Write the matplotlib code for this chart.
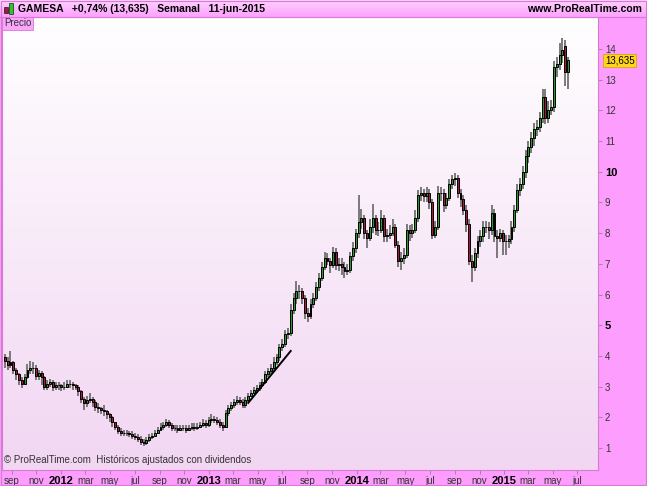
import numpy as np
import pandas as pd
import matplotlib
matplotlib.use("Agg")
import matplotlib.pyplot as plt
import matplotlib.dates as mdates
from matplotlib.colors import LinearSegmentedColormap
from matplotlib.patches import Rectangle

plt.rcParams['font.family'] = ['Liberation Sans', 'DejaVu Sans']

# weekly candles, GAMESA, aug 2011 -> jun 2015
weeks = pd.date_range('2011-08-15', periods=200, freq='W-MON')

opens = [
    3.95, 3.85, 3.70, 3.80, 3.55, 3.40, 3.20, 3.10, 3.30, 3.55,
    3.60, 3.60, 3.35, 3.45, 3.30, 3.00, 3.10, 3.15, 3.00, 3.05,
    3.05, 3.00, 3.00, 3.10, 3.10, 3.05, 3.00, 2.85, 2.60, 2.45,
    2.55, 2.60, 2.50, 2.35, 2.30, 2.25, 2.20, 2.10, 2.00, 1.85,
    1.70, 1.55, 1.50, 1.50, 1.50, 1.45, 1.40, 1.35, 1.30, 1.20,
    1.15, 1.25, 1.35, 1.40, 1.50, 1.60, 1.70, 1.75, 1.85, 1.75,
    1.65, 1.65, 1.60, 1.65, 1.65, 1.60, 1.65, 1.70, 1.65, 1.70,
    1.75, 1.80, 1.75, 1.90, 1.95, 1.90, 1.85, 1.75, 1.70, 2.15,
    2.30, 2.40, 2.50, 2.55, 2.50, 2.40, 2.55, 2.70, 2.80, 2.90,
    2.95, 3.05, 3.15, 3.40, 3.50, 3.60, 3.80, 3.95, 4.30, 4.40,
    4.70, 4.75, 5.50, 5.90, 6.10, 6.10, 5.90, 5.40, 5.30, 5.70,
    5.90, 6.25, 6.55, 6.90, 7.20, 7.10, 6.95, 7.40, 6.95, 7.00,
    6.90, 6.75, 6.80, 7.25, 7.50, 8.00, 8.35, 8.50, 8.00, 7.85,
    8.20, 8.50, 8.10, 8.10, 8.50, 7.90, 7.95, 8.00, 8.20, 7.60,
    7.10, 7.20, 7.30, 8.10, 8.00, 8.10, 8.50, 9.25, 9.30, 9.20,
    9.30, 9.00, 7.95, 8.20, 9.30, 9.30, 8.90, 9.15, 9.60, 9.75,
    9.80, 9.30, 9.10, 8.75, 8.30, 7.10, 6.90, 7.35, 7.75, 7.90,
    8.20, 8.20, 8.10, 8.65, 7.90, 7.85, 8.00, 7.75, 7.75, 7.80,
    8.20, 8.75, 9.40, 9.60, 10.00, 10.50, 10.80, 11.10, 11.40, 11.45,
    11.75, 12.45, 11.75, 12.00, 12.10, 13.40, 13.50, 13.80, 14.10, 13.25,
]
highs = [
    4.05, 3.95, 4.15, 3.85, 3.60, 3.45, 3.30, 3.40, 3.75, 3.85,
    3.80, 3.70, 3.55, 3.50, 3.35, 3.20, 3.25, 3.20, 3.15, 3.15,
    3.10, 3.15, 3.20, 3.20, 3.15, 3.10, 3.05, 2.90, 2.65, 2.70,
    2.80, 2.65, 2.55, 2.45, 2.35, 2.40, 2.25, 2.15, 2.05, 1.85,
    1.75, 1.65, 1.60, 1.60, 1.55, 1.55, 1.50, 1.45, 1.40, 1.30,
    1.35, 1.45, 1.50, 1.60, 1.70, 1.80, 1.85, 1.95, 1.90, 1.80,
    1.75, 1.75, 1.75, 1.75, 1.75, 1.75, 1.80, 1.80, 1.80, 1.85,
    1.95, 1.90, 2.00, 2.10, 2.05, 2.00, 1.95, 1.85, 2.25, 2.40,
    2.50, 2.60, 2.70, 2.65, 2.60, 2.65, 2.80, 2.90, 3.00, 3.05,
    3.15, 3.25, 3.50, 3.60, 3.75, 3.95, 4.05, 4.40, 4.55, 4.85,
    4.90, 5.70, 6.05, 6.45, 6.30, 6.20, 6.00, 5.55, 5.85, 6.05,
    6.40, 6.70, 7.05, 7.40, 7.35, 7.20, 7.55, 7.50, 7.20, 7.20,
    7.05, 7.00, 7.40, 7.70, 8.15, 9.25, 8.80, 8.60, 8.10, 8.45,
    8.95, 8.60, 8.35, 8.75, 8.60, 8.15, 8.25, 8.45, 8.30, 7.75,
    7.40, 7.50, 8.30, 8.25, 8.30, 8.75, 9.40, 9.50, 9.45, 9.50,
    9.45, 9.10, 8.40, 9.55, 9.50, 9.45, 9.30, 9.75, 9.90, 9.95,
    9.90, 9.45, 9.25, 8.90, 8.45, 7.30, 7.50, 7.90, 8.10, 8.40,
    8.40, 8.35, 8.90, 8.80, 8.10, 8.15, 8.10, 7.95, 7.95, 8.40,
    8.90, 9.60, 9.80, 10.20, 10.70, 11.00, 11.30, 11.60, 11.70, 11.95,
    12.70, 12.70, 12.30, 12.35, 13.60, 13.75, 14.20, 14.35, 14.30, 13.75,
]
lows = [
    3.60, 3.55, 3.60, 3.40, 3.20, 3.05, 2.95, 3.05, 3.25, 3.40,
    3.40, 3.20, 3.20, 3.05, 2.90, 2.90, 3.00, 2.85, 2.90, 2.90,
    2.85, 2.90, 2.95, 2.95, 2.90, 2.90, 2.70, 2.45, 2.25, 2.35,
    2.45, 2.35, 2.20, 2.15, 2.10, 2.05, 1.95, 1.85, 1.70, 1.60,
    1.45, 1.40, 1.40, 1.40, 1.35, 1.30, 1.25, 1.20, 1.10, 1.05,
    1.10, 1.20, 1.30, 1.35, 1.45, 1.55, 1.60, 1.70, 1.65, 1.55,
    1.55, 1.50, 1.55, 1.55, 1.50, 1.55, 1.60, 1.55, 1.60, 1.65,
    1.70, 1.65, 1.70, 1.80, 1.80, 1.75, 1.65, 1.55, 1.65, 2.05,
    2.20, 2.30, 2.40, 2.40, 2.30, 2.30, 2.50, 2.65, 2.75, 2.80,
    2.85, 3.00, 3.10, 3.30, 3.40, 3.50, 3.70, 3.85, 4.15, 4.30,
    4.55, 4.65, 5.35, 5.70, 5.85, 5.70, 5.20, 5.10, 5.20, 5.55,
    5.80, 6.10, 6.45, 6.80, 6.95, 6.70, 6.85, 6.80, 6.75, 6.65,
    6.55, 6.65, 6.70, 7.10, 7.35, 7.85, 8.15, 7.80, 7.50, 7.75,
    8.00, 7.95, 7.90, 8.00, 7.70, 7.70, 7.80, 7.90, 7.50, 6.90,
    6.80, 7.00, 7.20, 7.75, 7.85, 8.00, 8.35, 9.05, 9.00, 9.00,
    8.80, 7.80, 7.85, 8.10, 9.05, 8.70, 8.80, 9.05, 9.45, 9.55,
    9.15, 8.85, 8.60, 8.05, 6.95, 6.40, 6.75, 7.20, 7.55, 7.70,
    8.00, 7.80, 7.95, 7.70, 7.20, 7.70, 7.30, 7.30, 7.50, 7.65,
    8.05, 8.65, 9.20, 9.45, 9.80, 10.30, 10.60, 10.85, 11.15, 11.30,
    11.60, 11.55, 11.60, 11.85, 11.95, 13.10, 13.30, 13.55, 12.80, 12.70,
]
closes = [
    3.85, 3.70, 3.80, 3.55, 3.40, 3.20, 3.10, 3.30, 3.55, 3.60,
    3.60, 3.35, 3.45, 3.30, 3.00, 3.10, 3.15, 3.00, 3.05, 3.05,
    3.00, 3.00, 3.10, 3.10, 3.05, 3.00, 2.85, 2.60, 2.45, 2.55,
    2.60, 2.50, 2.35, 2.30, 2.25, 2.20, 2.10, 2.00, 1.85, 1.70,
    1.55, 1.50, 1.50, 1.50, 1.45, 1.40, 1.35, 1.30, 1.20, 1.15,
    1.25, 1.35, 1.40, 1.50, 1.60, 1.70, 1.75, 1.85, 1.75, 1.65,
    1.65, 1.60, 1.65, 1.65, 1.60, 1.65, 1.70, 1.65, 1.70, 1.75,
    1.80, 1.75, 1.90, 1.95, 1.90, 1.85, 1.75, 1.70, 2.15, 2.30,
    2.40, 2.50, 2.55, 2.50, 2.40, 2.55, 2.70, 2.80, 2.90, 2.95,
    3.05, 3.15, 3.40, 3.50, 3.60, 3.80, 3.95, 4.30, 4.40, 4.70,
    4.75, 5.50, 5.90, 6.10, 6.10, 5.90, 5.40, 5.30, 5.70, 5.90,
    6.25, 6.55, 6.90, 7.20, 7.10, 6.95, 7.40, 6.95, 7.00, 6.90,
    6.75, 6.80, 7.25, 7.50, 8.00, 8.35, 8.50, 8.00, 7.85, 8.20,
    8.50, 8.10, 8.10, 8.50, 7.90, 7.95, 8.00, 8.20, 7.60, 7.10,
    7.20, 7.30, 8.10, 8.00, 8.10, 8.50, 9.25, 9.30, 9.20, 9.30,
    9.00, 7.95, 8.20, 9.30, 9.30, 8.90, 9.15, 9.60, 9.75, 9.80,
    9.30, 9.10, 8.75, 8.30, 7.10, 6.90, 7.35, 7.75, 7.90, 8.20,
    8.20, 8.10, 8.65, 7.90, 7.85, 8.00, 7.75, 7.75, 7.80, 8.20,
    8.75, 9.40, 9.60, 10.00, 10.50, 10.80, 11.10, 11.40, 11.45, 11.75,
    12.45, 11.75, 12.00, 12.10, 13.40, 13.50, 13.80, 13.95, 13.25, 13.635,
]

# hand drawn trend line
trend_dates = ['2013-04-08', '2013-07-22']
trend_prices = [2.47, 4.16]

y_ticks = list(range(1, 15))
bold_y = [5, 10]
last_price = 13.635
last_label = '13,635'

x_ticks = pd.date_range('2011-09-01', '2015-07-01', freq='2MS')
month_names = {1: 'ene', 3: 'mar', 5: 'may', 7: 'jul', 9: 'sep', 11: 'nov'}

header = 'GAMESA   +0,74% (13,635)   Semanal   11-jun-2015'

PINK = '#fd9dfd'
FRAME = '#d57ad5'
GREEN = '#2a9a2a'
RED = '#a8173f'

W, H = 647, 486
fig = plt.figure(figsize=(W / 100, H / 100), dpi=100, facecolor=PINK)

def fx(px):
    return px / W

def fy(py):
    return 1 - py / H

ax = fig.add_axes([fx(2), fy(470), fx(596), (470 - 17) / H])

grad = LinearSegmentedColormap.from_list('bg', ['#f2d6f2', '#ffffff'])
ax.imshow(np.linspace(0, 1, 256).reshape(-1, 1), extent=[0, 1, 0, 1],
          transform=ax.transAxes, cmap=grad, origin='lower', aspect='auto', zorder=0)

x = mdates.date2num(weeks)
o = np.array(opens)
c = np.array(closes)
up = c >= o
ax.vlines(x, lows, highs, color='#707070', lw=1.3, zorder=2)
body_w = 4.8
ax.bar(x[up], (c - o)[up], bottom=o[up], width=body_w, color=GREEN,
       edgecolor='black', linewidth=0.7, zorder=3)
ax.bar(x[~up], (o - c)[~up], bottom=c[~up], width=body_w, color=RED,
       edgecolor='black', linewidth=0.7, zorder=3)

ax.plot(mdates.date2num(pd.to_datetime(trend_dates)), trend_prices, color='black', lw=1.4, zorder=4)

ax.set_xlim(mdates.date2num(pd.Timestamp('2011-08-08')), mdates.date2num(pd.Timestamp('2015-08-21')))
ax.set_ylim(0.283, 15.04)

ax.yaxis.tick_right()
ax.set_yticks(y_ticks)
ax.set_yticklabels([str(v) for v in y_ticks])
for lab, v in zip(ax.get_yticklabels(), y_ticks):
    if v in bold_y:
        lab.set_fontweight('bold')
        lab.set_color('black')
        lab.set_fontsize(8)
    else:
        lab.set_color('#333333')
        lab.set_fontsize(7)
ax.tick_params(axis='y', length=3, width=0.6, color='#888888', pad=2)

ax.set_xticks(mdates.date2num(x_ticks))
xl = []
for d in x_ticks:
    xl.append(str(d.year) if d.month == 1 else month_names[d.month])
ax.set_xticklabels(xl)
for lab, d in zip(ax.get_xticklabels(), x_ticks):
    if d.month == 1:
        lab.set_fontweight('bold')
        lab.set_color('black')
        lab.set_fontsize(8)
    else:
        lab.set_color('#333333')
        lab.set_fontsize(7)
ax.tick_params(axis='x', length=3, width=0.6, color='#888888', pad=1.5)

for s in ax.spines.values():
    s.set_color(FRAME)
    s.set_linewidth(0.8)

ax.text(0.004, 0.012, '© ProRealTime.com  Históricos ajustados con dividendos',
        transform=ax.transAxes, fontsize=7, color='#333333', va='bottom', ha='left')

# last price marker
ax.annotate(last_label, xy=(1.0, last_price), xycoords=('axes fraction', 'data'),
            xytext=(5, 0), textcoords='offset points', fontsize=7, va='center', ha='left',
            bbox=dict(boxstyle='square,pad=0.15', fc='#ffd51a', ec='#c9a000', lw=0.5),
            annotation_clip=False)

# header band
hax = fig.add_axes([0, fy(17), 1, 17 / H])
hgrad = LinearSegmentedColormap.from_list('hd', ['#fda0fd', '#ffd2ff'])
hax.imshow(np.linspace(0, 1, 64).reshape(-1, 1), extent=[0, 1, 0, 1],
           cmap=hgrad, origin='lower', aspect='auto')
hax.set_xlim(0, 1)
hax.set_ylim(0, 1)
hax.axis('off')
hax.add_patch(Rectangle((fx(4), 0.25), fx(4), 0.35, fc=RED, ec='black', lw=0.4))
hax.add_patch(Rectangle((fx(9), 0.2), fx(4), 0.6, fc='#22cc22', ec='black', lw=0.4))
hax.text(fx(18), 0.5, header, fontsize=7.5, fontweight='bold', va='center', ha='left')
hax.text(fx(642), 0.5, 'www.ProRealTime.com', fontsize=7.5, fontweight='bold', va='center', ha='right')

fig.lines.append(plt.Line2D([0, 1], [fy(17), fy(17)], color=FRAME, lw=0.8, transform=fig.transFigure))

# "Precio" tab
fig.patches.append(Rectangle((fx(2), fy(30)), fx(31), 13 / H, fc='#fba6fb', ec=FRAME, lw=0.6,
                             transform=fig.transFigure))
fig.text(fx(4), fy(23.5), 'Precio', fontsize=7, color='#333333', va='center', ha='left')

# outer frame
fig.patches.append(Rectangle((fx(0.5), fy(485)), fx(645), 484 / H, fill=False, ec=FRAME, lw=0.8,
                             transform=fig.transFigure))

fig.savefig('out.png', dpi=100, facecolor=PINK)
